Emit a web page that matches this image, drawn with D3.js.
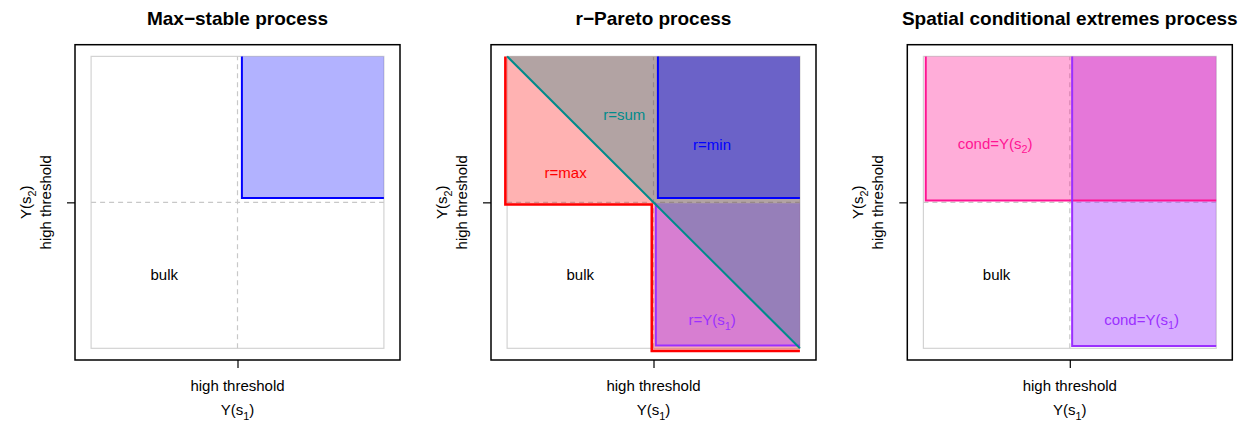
<!DOCTYPE html>
<html><head><meta charset="utf-8">
<script src="https://cdn.jsdelivr.net/npm/d3@7"></script>
<style>
body{margin:0;background:#fff}
text{font-family:"Liberation Sans",Arial,Helvetica,sans-serif}
</style>
</head><body>
<svg id="c" width="1243" height="421"></svg>
<script>
// ---------- data ----------
const titles = ["Max\u2212stable process", "r\u2212Pareto process", "Spatial conditional extremes process"];
const threshold = 0.5;
const tickLabel = "high threshold";
const xLabel = {main: "Y(s", sub: "1", tail: ")"};
const yLabel = {main: "Y(s", sub: "2", tail: ")"};

// region polygons (data coordinates, unit square) per panel
const fills1 = [
  {pts: [[0.515,0.515],[1,0.515],[1,1],[0.515,1]], color: "rgba(0,0,255,0.3)"}
];
const fills2 = [
  {pts: [[-0.006,1],[-0.006,0.493],[0.494,0.493],[0.494,-0.009],[1,-0.009],[1,1]], color: "rgba(255,0,0,0.3)"},
  {pts: [[0.508,0.01],[1,0.01],[1,0.497],[0.508,0.497]], color: "rgba(155,48,255,0.4)"},
  {pts: [[0,1],[1,0],[1,1]], color: "rgba(0,128,128,0.3)"},
  {pts: [[0.515,0.515],[1,0.515],[1,1],[0.515,1]], color: "rgba(0,0,255,0.4)"}
];
const fills3 = [
  {pts: [[0.508,0.008],[1,0.008],[1,1],[0.508,1]], color: "rgba(155,48,255,0.4)"},
  {pts: [[0.008,0.506],[1,0.506],[1,1],[0.008,1]], color: "rgba(255,20,147,0.35)"}
];

// boundary lines per panel
const lines1 = [
  {pts: [[0.515,1],[0.515,0.515],[1,0.515]], color: "#0000FF", w: 2}
];
const lines2 = [
  {pts: [[-0.006,1],[-0.006,0.493],[0.494,0.493],[0.494,-0.009],[1,-0.009]], color: "#FF0000", w: 2.5},
  {pts: [[0.515,1],[0.515,0.515],[1,0.515]], color: "#0000FF", w: 2},
  {pts: [[0.508,0.497],[0.508,0.01],[1,0.01]], color: "#9B30FF", w: 2},
  {pts: [[0,1],[1,0]], color: "#008B8B", w: 2}
];
const lines3 = [
  {pts: [[0.008,1],[0.008,0.506],[1,0.506]], color: "#FF1493", w: 2},
  {pts: [[0.508,1],[0.508,0.008],[1,0.008]], color: "#9B30FF", w: 2}
];

// in-plot labels
const labels1 = [
  {t: "bulk", x: 0.25, y: 0.25, color: "#000"}
];
const labels2 = [
  {t: "bulk", x: 0.25, y: 0.25, color: "#000"},
  {t: "r=sum", x: 0.40, y: 0.80, color: "#008B8B"},
  {t: "r=min", x: 0.70, y: 0.695, color: "#0000FF"},
  {t: "r=max", x: 0.20, y: 0.60, color: "#FF0000"},
  {t: "r=Y(s", sub: "1", tail: ")", x: 0.70, y: 0.096, color: "#9B30FF"}
];
const labels3 = [
  {t: "bulk", x: 0.25, y: 0.25, color: "#000"},
  {t: "cond=Y(s", sub: "2", tail: ")", x: 0.245, y: 0.70, color: "#FF1493"},
  {t: "cond=Y(s", sub: "1", tail: ")", x: 0.745, y: 0.098, color: "#9B30FF"}
];

const panels = [
  {fills: fills1, lines: lines1, labels: labels1},
  {fills: fills2, lines: lines2, labels: labels2},
  {fills: fills3, lines: lines3, labels: labels3}
];

// ---------- layout ----------
const svg = d3.select("#c");
const boxW = 325, boxTop = 44.7, boxBottom = 360;
const boxLefts = [75, 491, 907.3];

function addSubText(sel, d, size) {
  sel.text(null);
  sel.append("tspan").text(d.t || d.main);
  if (d.sub) {
    sel.append("tspan").attr("font-size", size * 0.72).attr("dy", size * 0.3).text(d.sub);
    sel.append("tspan").attr("dy", -size * 0.3).text(d.tail);
  }
}

panels.forEach((p, i) => {
  const L = boxLefts[i];
  const x = d3.scaleLinear().domain([-0.055, 1.055]).range([L, L + boxW]);
  const y = d3.scaleLinear().domain([-0.04, 1.04]).range([boxBottom, boxTop]);
  const g = svg.append("g");
  const line = d3.line().x(d => x(d[0])).y(d => y(d[1]));

  // inner square
  g.append("rect").attr("x", x(0)).attr("y", y(1))
    .attr("width", x(1) - x(0)).attr("height", y(0) - y(1))
    .attr("fill", "none").attr("stroke", "#D3D3D3").attr("stroke-width", 1.2);

  // dashed threshold lines
  g.append("path").attr("d", line([[threshold, 0], [threshold, 1]]))
    .attr("stroke", "#C8C8C8").attr("stroke-width", 1.2).attr("stroke-dasharray", "5,4").attr("fill", "none");
  g.append("path").attr("d", line([[0, threshold], [1, threshold]]))
    .attr("stroke", "#C8C8C8").attr("stroke-width", 1.2).attr("stroke-dasharray", "5,4").attr("fill", "none");

  // fills
  g.selectAll("path.fill").data(p.fills).join("path").attr("class", "fill")
    .attr("d", d => line(d.pts) + "Z").attr("fill", d => d.color).attr("stroke", "none");

  // boundary lines
  g.selectAll("path.bd").data(p.lines).join("path").attr("class", "bd")
    .attr("d", d => line(d.pts)).attr("fill", "none")
    .attr("stroke", d => d.color).attr("stroke-width", d => d.w).attr("stroke-linejoin", "miter");

  // labels
  g.selectAll("text.lab").data(p.labels).join("text").attr("class", "lab")
    .attr("x", d => x(d.x)).attr("y", d => y(d.y) + 5)
    .attr("text-anchor", "middle").attr("font-size", 15).attr("fill", d => d.color)
    .each(function(d) { addSubText(d3.select(this), d, 15); });

  // box
  g.append("rect").attr("x", L).attr("y", boxTop).attr("width", boxW).attr("height", boxBottom - boxTop)
    .attr("fill", "none").attr("stroke", "#000").attr("stroke-width", 1.5);

  // axes
  const xAxis = d3.axisBottom(x).tickValues([threshold]).tickFormat(() => "").tickSize(8);
  const ax = g.append("g").attr("transform", `translate(0,${boxBottom})`).call(xAxis);
  ax.select(".domain").remove();
  ax.selectAll("line").attr("stroke", "#000").attr("stroke-width", 1.2);
  const yAxis = d3.axisLeft(y).tickValues([threshold]).tickFormat(() => "").tickSize(8);
  const ay = g.append("g").attr("transform", `translate(${L},0)`).call(yAxis);
  ay.select(".domain").remove();
  ay.selectAll("line").attr("stroke", "#000").attr("stroke-width", 1.2);

  // tick labels
  g.append("text").attr("x", x(threshold)).attr("y", 391).attr("text-anchor", "middle")
    .attr("font-size", 15).text(tickLabel);
  g.append("text").attr("transform", `translate(${L - 24},${y(threshold)}) rotate(-90)`)
    .attr("text-anchor", "middle").attr("font-size", 15).text(tickLabel);

  // axis titles
  const xt = g.append("text").attr("x", x(threshold)).attr("y", 415).attr("text-anchor", "middle").attr("font-size", 15);
  addSubText(xt, xLabel, 15);
  const yt = g.append("text").attr("transform", `translate(${L - 44},${y(threshold)}) rotate(-90)`)
    .attr("text-anchor", "middle").attr("font-size", 15);
  addSubText(yt, yLabel, 15);

  // title
  g.append("text").attr("x", L + boxW / 2).attr("y", 24.5).attr("text-anchor", "middle")
    .attr("font-size", 19).attr("font-weight", "bold").text(titles[i]);
});
</script>
</body></html>
